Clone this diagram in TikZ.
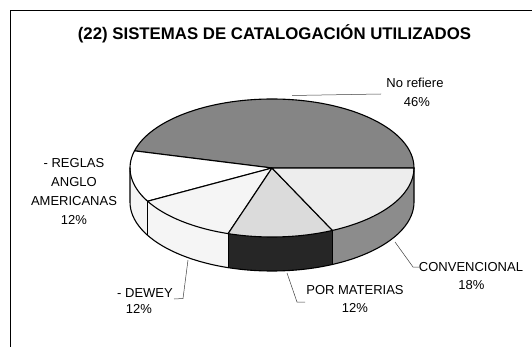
\documentclass[tikz,border=0pt]{standalone}
\usepackage{fontspec}
\setmainfont{Liberation Sans}
\usetikzlibrary{calc}
\begin{document}
\begin{tikzpicture}[x=1pt,y=-1pt,
  lbl/.style={font=\fontsize{13}{15}\selectfont, inner sep=0pt},
  ttl/.style={font=\fontsize{16.8}{19}\selectfont\bfseries, inner sep=0pt},
  edge/.style={draw=black, line width=1.1pt, line join=round},
  leader/.style={draw=black!75, line width=0.5pt},
  frame/.style={draw=black, line width=0.8pt},
  ell/.style={x radius=142pt, y radius=69pt}]
\useasboundingbox (0,0) rectangle (532,347);
\fill[white] (0,0) rectangle (532,347);
% frame
\coordinate (fTL) at (10,10);
\coordinate (fTR) at (532,10);
\coordinate (fBL) at (10,347);
\draw[frame] (fTR) -- (fTL) -- (fBL);
% title
\node[ttl] (title) at (274.5,34) {(22) SISTEMAS DE CATALOGACIÓN UTILIZADOS};
% pie
\coordinate (C) at (272,168);
\newcommand\sideface[3]{\fill[#3] ($(C)+(#1:142pt and 69pt)$) arc[ell,start angle=#1,end angle=#2] -- ++(0,34) arc[ell,start angle=#2,end angle=#1] -- cycle;}
\newcommand\topface[3]{\filldraw[#3] (C) -- ($(C)+(#1:142pt and 69pt)$) arc[ell,start angle=#1,end angle=#2] -- cycle;}
% sides
\sideface{180}{208.8}{black!4}
\sideface{208.8}{252}{black!4}
\sideface{252}{295.2}{black!85}
\sideface{295.2}{360}{black!45}
% tops
\topface{0}{165.6}{fill=black!48, edge}
\topface{165.6}{208.8}{fill=white, edge}
\topface{208.8}{252}{fill=black!4, edge}
\topface{252}{295.2}{fill=black!14, edge}
\topface{295.2}{360}{fill=black!7, edge}
% side outlines
\draw[edge] ($(C)+(180:142pt and 69pt)$) -- ++(0,34) arc[ell,start angle=180,end angle=360] -- ++(0,-34);
\foreach \a in {208.8,252,295.2}{
  \draw[edge] ($(C)+(\a:142pt and 69pt)$) -- ++(0,34);
}
% labels
\node[lbl, anchor=base] (nr) at (415,87.5) {No refiere};
\node[lbl, anchor=base] (nrp) at (417,107) {46\%};
\node[lbl, align=center, anchor=north, font=\fontsize{13}{19}\selectfont] (rg) at (74,158) {- REGLAS\\ANGLO\\AMERICANAS\\12\%};
\node[lbl, anchor=base] (dw) at (145,297.5) {- DEWEY};
\node[lbl, anchor=base] (dwp) at (139,313.5) {12\%};
\node[lbl, anchor=base] (pm) at (355,294.5) {POR MATERIAS};
\node[lbl, anchor=base] (pmp) at (355,312.5) {12\%};
\node[lbl, anchor=base] (cv) at (471,271.5) {CONVENCIONAL};
\node[lbl, anchor=base] (cvp) at (471.5,289.5) {18\%};
% leaders
\coordinate (nrA) at (292,95.5);
\coordinate (nrB) at (381,94);
\draw[leader] (nrA) -- (nrB);
\coordinate (dwA) at (174,299);
\coordinate (dwB) at (183,298.5);
\coordinate (dwC) at (188,260);
\draw[leader] (dwA) -- (dwB) -- (dwC);
\coordinate (pmA) at (287,273);
\coordinate (pmB) at (297,302);
\coordinate (pmC) at (305,302);
\draw[leader] (pmA) -- (pmB) -- (pmC);
\coordinate (cvA) at (395,242);
\coordinate (cvB) at (413,267);
\coordinate (cvC) at (419,267);
\draw[leader] (cvA) -- (cvB) -- (cvC);
\end{tikzpicture}
\end{document}
